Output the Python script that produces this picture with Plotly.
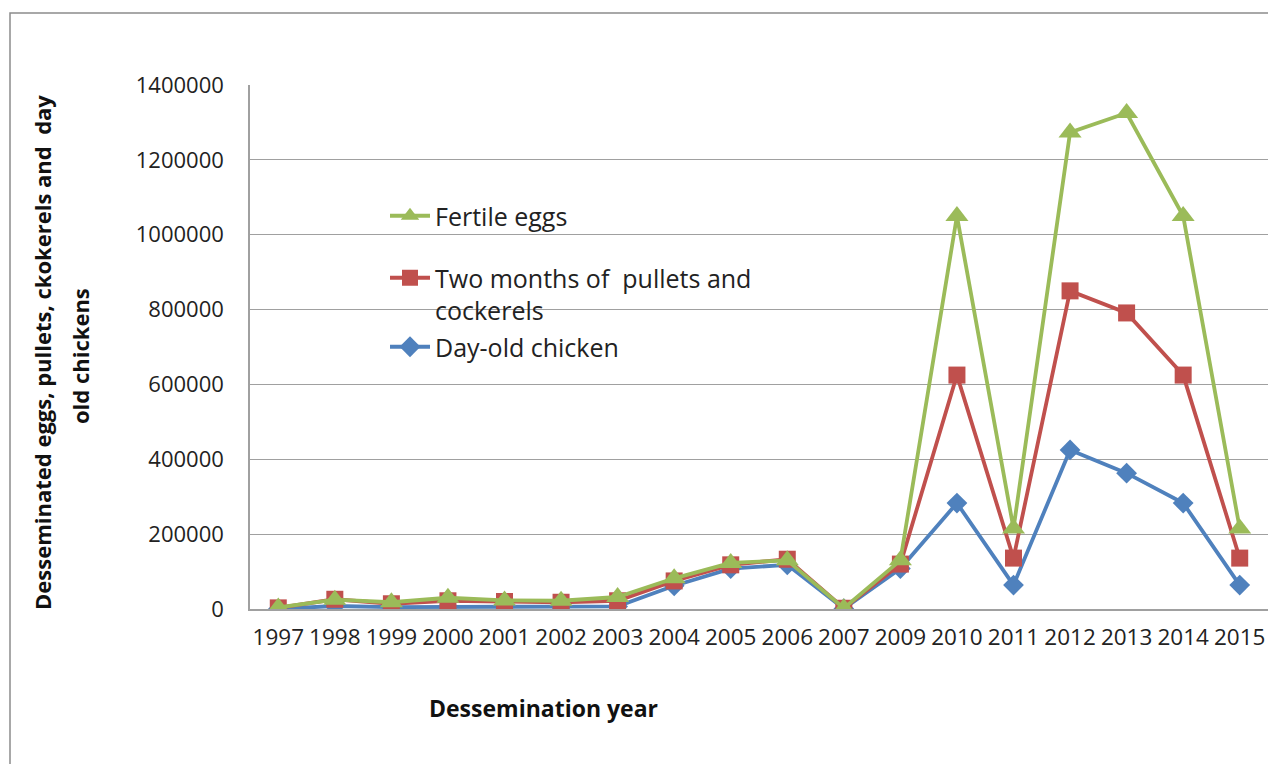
import plotly.graph_objects as go

years = ["1997", "1998", "1999", "2000", "2001", "2002", "2003", "2004", "2005",
         "2006", "2007", "2009", "2010", "2011", "2012", "2013", "2014", "2015"]

fertile_eggs = [4000, 25000, 18000, 30000, 23000, 22000, 32000, 82000, 123000,
                130000, 2000, 130000, 1050000, 215000, 1273000, 1325000, 1050000, 215000]
pullets_cockerels = [3000, 26000, 14000, 22000, 20000, 18000, 22000, 75000, 118000,
                     133000, 2000, 120000, 625000, 136000, 850000, 791000, 625000, 136000]
day_old_chicken = [0, 8000, 5000, 6000, 6000, 6000, 7000, 62000, 108000,
                   118000, 1000, 108000, 283000, 64000, 425000, 363000, 283000, 64000]

y_ticks = [0, 200000, 400000, 600000, 800000, 1000000, 1200000, 1400000]

GREEN = "#9BBB59"
RED = "#C0504D"
BLUE = "#4F81BD"
FONT = "Open Sans"

# page body has an 8px margin; work in screen pixels and convert
OFF = 8
W, H = 1276 - OFF, 764 - OFF
L, R, T, B = 250 - OFF, 8, 85 - OFF, 764 - 609
pw = W - L - R
ph = H - T - B


def px(x):
    return (x - OFF - L) / pw


def py(y):
    return (T + ph - (y - OFF)) / ph


fig = go.Figure()
fig.add_trace(go.Scatter(
    x=years, y=day_old_chicken, name="Day-old chicken", mode="lines+markers",
    line=dict(color=BLUE, width=3.8),
    marker=dict(symbol="diamond", size=16, color=BLUE),
    legend="legend3"))
fig.add_trace(go.Scatter(
    x=years, y=pullets_cockerels, name="Two months of  pullets and<br>cockerels",
    mode="lines+markers",
    line=dict(color=RED, width=3.8),
    marker=dict(symbol="square", size=17, color=RED),
    legend="legend2"))
fig.add_trace(go.Scatter(
    x=years, y=fertile_eggs, name="Fertile eggs", mode="lines+markers",
    line=dict(color=GREEN, width=3.8),
    marker=dict(symbol="triangle-up", size=20, color=GREEN),
    legend="legend"))

leg_common = dict(xanchor="left", yanchor="middle", bgcolor="rgba(0,0,0,0)",
                  font=dict(family=FONT, size=25, color="#222"), itemwidth=40)

fig.update_layout(
    width=W, height=H,
    margin=dict(l=L, r=R, t=T, b=B),
    paper_bgcolor="white", plot_bgcolor="white",
    font=dict(family=FONT, color="#222"),
    showlegend=True,
    legend=dict(x=px(385), y=py(216), **leg_common),
    legend2=dict(x=px(385), y=py(294), valign="top", **leg_common),
    legend3=dict(x=px(385), y=py(347), **leg_common),
    xaxis=dict(
        type="category", categoryorder="array", categoryarray=years,
        showgrid=False, showline=True, linecolor="#A0A0A0", linewidth=1.5,
        ticks="", tickfont=dict(family=FONT, size=22.5, color="#222"),
        ticklabelstandoff=7, zeroline=False,
        range=[-0.5, len(years) - 0.5],
    ),
    yaxis=dict(
        range=[0, 1400000], tickvals=y_ticks, ticktext=[str(v) for v in y_ticks],
        showgrid=True, gridcolor="#A0A0A0", gridwidth=1.3,
        showline=True, linecolor="#A0A0A0", linewidth=1.5,
        ticks="", tickfont=dict(family=FONT, size=22, color="#222"),
        ticklabelstandoff=20, zeroline=False,
    ),
    annotations=[
        dict(text="<b>Dessemination year</b>", xref="paper", yref="paper",
             x=px(543), y=py(708), xanchor="center", yanchor="middle",
             showarrow=False, font=dict(family=FONT, size=23, color="#111")),
        dict(text="<b>Desseminated eggs, pullets, ckokerels and  day</b>",
             xref="paper", yref="paper", x=px(42), y=py(353), textangle=-90,
             xanchor="center", yanchor="middle", showarrow=False,
             font=dict(family=FONT, size=22, color="#111")),
        dict(text="<b>old chickens</b>",
             xref="paper", yref="paper", x=px(80), y=py(356), textangle=-90,
             xanchor="center", yanchor="middle", showarrow=False,
             font=dict(family=FONT, size=22, color="#111")),
    ],
    shapes=[
        dict(type="rect", xref="paper", yref="paper",
             x0=px(10), x1=px(1290), y0=py(800), y1=py(13),
             line=dict(color="#8C8C8C", width=1.5), fillcolor="rgba(0,0,0,0)",
             layer="below"),
    ],
)

fig.write_html("out.html")
